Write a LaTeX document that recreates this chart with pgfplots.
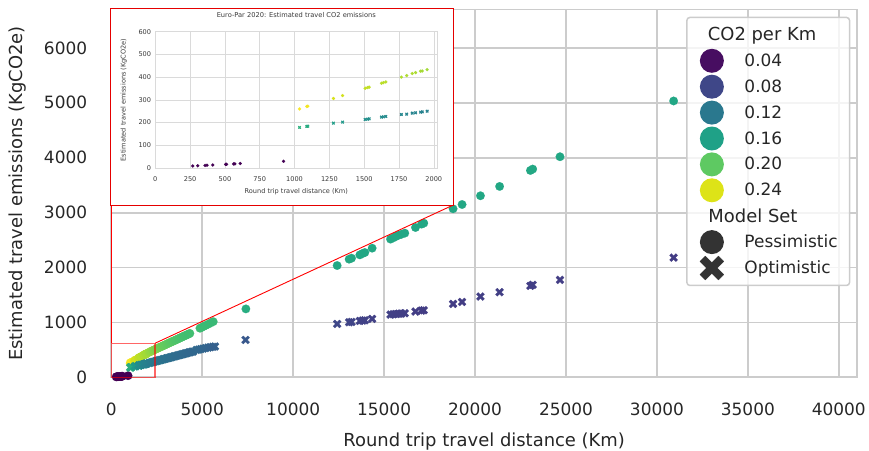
\documentclass[border=0pt]{standalone}
\usepackage{pgfplots}
\usepackage{pgfplotstable}
\pgfplotsset{compat=1.18}
\usepackage{fontspec}
\setmainfont{DejaVu Sans}
\definecolor{gridc}{HTML}{CCCCCC}
\definecolor{textc}{HTML}{262626}
\definecolor{insetgrid}{HTML}{DADADA}
\definecolor{insettext}{HTML}{3A3A3A}
\definecolor{legdark}{HTML}{333333}
\definecolor{cA}{HTML}{470E61}
\definecolor{cB}{HTML}{3F4788}
\definecolor{cC}{HTML}{2A788E}
\definecolor{cD}{HTML}{1FA187}
\definecolor{cE}{HTML}{5EC962}
\definecolor{cF}{HTML}{DDE318}

\pgfdeclareplotmark{fatx}{%
 \pgfpathmoveto{\pgfqpoint{0pt}{0.45\pgfplotmarksize}}%
 \pgfpathlineto{\pgfqpoint{0.55\pgfplotmarksize}{\pgfplotmarksize}}%
 \pgfpathlineto{\pgfqpoint{\pgfplotmarksize}{0.55\pgfplotmarksize}}%
 \pgfpathlineto{\pgfqpoint{0.45\pgfplotmarksize}{0pt}}%
 \pgfpathlineto{\pgfqpoint{\pgfplotmarksize}{-0.55\pgfplotmarksize}}%
 \pgfpathlineto{\pgfqpoint{0.55\pgfplotmarksize}{-\pgfplotmarksize}}%
 \pgfpathlineto{\pgfqpoint{0pt}{-0.45\pgfplotmarksize}}%
 \pgfpathlineto{\pgfqpoint{-0.55\pgfplotmarksize}{-\pgfplotmarksize}}%
 \pgfpathlineto{\pgfqpoint{-\pgfplotmarksize}{-0.55\pgfplotmarksize}}%
 \pgfpathlineto{\pgfqpoint{-0.45\pgfplotmarksize}{0pt}}%
 \pgfpathlineto{\pgfqpoint{-\pgfplotmarksize}{0.55\pgfplotmarksize}}%
 \pgfpathlineto{\pgfqpoint{-0.55\pgfplotmarksize}{\pgfplotmarksize}}%
 \pgfpathclose
 \pgfusepathqfillstroke
}

% Pessimistic model set
\pgfplotstableread{
x y
269 8.6
305 9.8
357 11.4
371 11.9
412 13.2
505 16.2
512 16.4
562 18.0
571 18.3
610 19.5
921 29.5
1036 260
1088 271
1095 272
1279 306
1345 319
1507 351
1524 354
1536 356
1624 373
1638 376
1655 379
1767 400
1805 407
1845 416
1869 420
1905 426
1917 427
1952 433
2080 456
2150 467
2210 478
2290 489
2350 499
2420 509
2500 521
2560 531
2630 542
2700 551
2780 564
2850 575
2910 583
2990 596
3060 607
3130 618
3200 628
3280 641
3350 651
3420 662
3500 674
3570 684
3640 696
3720 707
3790 719
3860 729
3940 742
4010 752
4090 764
4160 775
4240 787
4320 800
4874 894
4960 907
5080 928
5200 947
5330 969
5460 990
5604 1014
7400 1246
12418 2036
13077 2152
13209 2170
13665 2230
13813 2255
13940 2273
14341 2352
15352 2517
15500 2540
15650 2566
15800 2590
15950 2605
16137 2626
16725 2729
17055 2790
17181 2808
18791 3070
19286 3148
20297 3307
21350 3477
23044 3768
23170 3793
24670 4018
30918 5034
}\pess

% Optimistic model set
\pgfplotstableread{
x y
1036 178.6
1088 183
1095 184
1279 197.6
1345 202
1507 213.7
1524 215
1536 216.6
1624 224
1638 225
1655 227
1767 235.6
1805 237
1845 241.5
1869 243
1905 246
1917 247
1952 250
2080 261
2150 267
2220 273
2300 280
2370 286
2450 293
2520 299
2600 306
2680 313
2750 319
2830 326
2900 333
2980 339
3050 346
3130 353
3200 358
3280 366
3350 372
3430 379
3500 385
3580 392
3650 398
3730 405
3800 411
3880 418
3950 424
4030 431
4100 437
4180 444
4260 451
4330 457
4420 464
4505 470
4689 498
4800 505
4920 514
5050 523
5180 532
5320 541
5450 549
5580 555
5700 560
7383 680
12418 972
13077 1003
13209 1009
13665 1027
13813 1033
13940 1039
14341 1063
15352 1142
15500 1148
15650 1153
15800 1158
15950 1162
16137 1167
16725 1197
17055 1215
17181 1221
18791 1337
19286 1373
20297 1470
21350 1550
23044 1665
23170 1684
24670 1775
30918 2181
}\opti

\begin{document}
\begin{tikzpicture}
\useasboundingbox (-111.3bp,-73.7bp) rectangle (757.7bp,377.3bp);
\begin{axis}[
  at={(0bp,0bp)}, anchor=south west,
  scale only axis, width=745.7bp, height=367.8bp,
  xmin=0, xmax=41000, ymin=0, ymax=6700,
  xtick={0,5000,...,40000}, ytick={0,1000,...,6000},
  scaled ticks=false,
  /pgf/number format/1000 sep={},
  /pgf/number format/assume math mode=true,
  tick label style={font=\fontsize{17}{20}\selectfont, text=textc},
  yticklabel style={anchor=east, inner sep=0pt, xshift=-24bp},
  xticklabel style={anchor=north, inner sep=0pt, yshift=-25bp},
  major tick length=0pt,
  grid=major, major grid style={draw=gridc, line width=1.8bp},
  axis line style={draw=gridc, line width=1.8bp},
  label style={font=\fontsize{18}{21}\selectfont, text=textc},
  xlabel={Round trip travel distance (Km)},
  ylabel={Estimated travel emissions (KgCO2e)},
  xlabel style={at={(axis description cs:0.5,-0.1743)}, anchor=center},
  ylabel style={at={(axis description cs:-0.1251,0.5)}, anchor=center},
  colormap/viridis, point meta min=0.032, point meta max=0.252,
  legend cell align=left,
  legend style={at={(rel axis cs:1,1)}, anchor=north east, xshift=-6.7bp, yshift=-7.2bp,
    draw=gridc, line width=1.5bp, rounded corners=3bp, fill=white, fill opacity=0.8, text opacity=1,
    font=\fontsize{17}{20}\selectfont, text=textc,
    inner xsep=12bp, inner ysep=4.5bp, column sep=20.6bp, row sep=0bp,
    nodes={inner sep=0bp}},
]
\addplot[scatter, only marks, mark=*, mark size=4.3bp, forget plot,
  scatter/use mapped color={draw=mapped color, fill=mapped color},
  mark options={line width=0.1bp},
  point meta={\thisrow{y}/\thisrow{x}}] table[x=x,y=y] {\pess};
\addplot[scatter, only marks, mark=fatx, mark size=4.1bp, forget plot,
  scatter/use mapped color={draw=mapped color, fill=mapped color},
  mark options={line width=0.1bp},
  point meta={\thisrow{y}/\thisrow{x}}] table[x=x,y=y] {\opti};

\addlegendimage{legend image code/.code={\path[draw=none,fill=none] (-13bp,-12.95bp) rectangle (12bp,12.95bp);}}
\addlegendentry{\fontsize{18}{21}\selectfont\hspace*{-36.6bp}CO2 per Km}
\addlegendimage{legend image code/.code={\path[draw=none,fill=none] (-13bp,-12.95bp) rectangle (12bp,12.95bp); \fill[cA, draw=none, opacity=1] (0bp,0bp) circle (12bp);}}
\addlegendentry{0.04}
\addlegendimage{legend image code/.code={\path[draw=none,fill=none] (-13bp,-12.95bp) rectangle (12bp,12.95bp); \fill[cB, draw=none, opacity=1] (0bp,0bp) circle (12bp);}}
\addlegendentry{0.08}
\addlegendimage{legend image code/.code={\path[draw=none,fill=none] (-13bp,-12.95bp) rectangle (12bp,12.95bp); \fill[cC, draw=none, opacity=1] (0bp,0bp) circle (12bp);}}
\addlegendentry{0.12}
\addlegendimage{legend image code/.code={\path[draw=none,fill=none] (-13bp,-12.95bp) rectangle (12bp,12.95bp); \fill[cD, draw=none, opacity=1] (0bp,0bp) circle (12bp);}}
\addlegendentry{0.16}
\addlegendimage{legend image code/.code={\path[draw=none,fill=none] (-13bp,-12.95bp) rectangle (12bp,12.95bp); \fill[cE, draw=none, opacity=1] (0bp,0bp) circle (12bp);}}
\addlegendentry{0.20}
\addlegendimage{legend image code/.code={\path[draw=none,fill=none] (-13bp,-12.95bp) rectangle (12bp,12.95bp); \fill[cF, draw=none, opacity=1] (0bp,0bp) circle (12bp);}}
\addlegendentry{0.24}
\addlegendimage{legend image code/.code={\path[draw=none,fill=none] (-13bp,-12.95bp) rectangle (12bp,12.95bp);}}
\addlegendentry{\fontsize{18}{21}\selectfont\hspace*{-36bp}Model Set}
\addlegendimage{legend image code/.code={\path[draw=none,fill=none] (-13bp,-12.95bp) rectangle (12bp,12.95bp); \fill[legdark, draw=none, opacity=1] (0bp,0bp) circle (12bp);}}
\addlegendentry{Pessimistic}
\addlegendimage{legend image code/.code={\path[draw=none,fill=none] (-13bp,-12.95bp) rectangle (12bp,12.95bp); \path[fill=legdark, draw=legdark, line width=0.1bp, opacity=1] plot[mark=fatx, mark size=12bp] coordinates {(0bp,0bp)};}}
\addlegendentry{Optimistic}
\end{axis}

% zoom marker and connectors
\draw[red, opacity=0.6, line width=1.3bp] (0bp,0bp) rectangle (43.65bp,34bp);
\draw[red, line width=0.9bp] (342bp,172.3bp) -- (43.65bp,34bp);
\draw[red, line width=0.9bp] (-0.3bp,172.3bp) -- (-0.3bp,34bp);
% inset frame
\fill[white] (-0.6bp,172.3bp) rectangle (342bp,369bp);
\draw[red!90!black, line width=0.9bp] (-0.6bp,172.3bp) rectangle (342bp,369bp);

\begin{axis}[
  at={(44bp,209.3bp)}, anchor=south west,
  scale only axis, width=282bp, height=136.3bp,
  xmin=0, xmax=2025, ymin=0, ymax=600,
  xtick={0,250,...,2000}, ytick={0,100,...,600},
  scaled ticks=false,
  /pgf/number format/1000 sep={},
  /pgf/number format/assume math mode=true,
  tick label style={font=\fontsize{6.6}{7.5}\selectfont, text=insettext},
  yticklabel style={anchor=east, inner sep=0pt, xshift=-4bp},
  xticklabel style={anchor=north, inner sep=0pt, yshift=-8.7bp},
  major tick length=0pt,
  grid=major, major grid style={draw=insetgrid, line width=0.6bp},
  axis line style={draw=insetgrid, line width=0.6bp},
  title={Euro-Par 2020: Estimated travel CO2 emissions},
  title style={at={(axis description cs:0.5,1.0785)}, anchor=center, font=\fontsize{6.7}{7.5}\selectfont, text=insettext},
  label style={font=\fontsize{6.6}{7.5}\selectfont, text=insettext},
  xlabel={Round trip travel distance (Km)},
  ylabel={Estimated travel emissions (KgCO2e)},
  xlabel style={at={(axis description cs:0.5,-0.174)}, anchor=center},
  ylabel style={at={(axis description cs:-0.112,0.5)}, anchor=center},
  colormap/viridis, point meta min=0.032, point meta max=0.252,
]
\addplot[scatter, only marks, mark=*, mark size=1.6bp,
  scatter/use mapped color={draw=mapped color, fill=mapped color},
  mark options={line width=0.1bp},
  point meta={\thisrow{y}/\thisrow{x}}] table[x=x,y=y] {\pess};
\addplot[scatter, only marks, mark=fatx, mark size=1.5bp,
  scatter/use mapped color={draw=mapped color, fill=mapped color},
  mark options={line width=0.1bp},
  point meta={\thisrow{y}/\thisrow{x}}] table[x=x,y=y] {\opti};
\end{axis}
\end{tikzpicture}
\end{document}
